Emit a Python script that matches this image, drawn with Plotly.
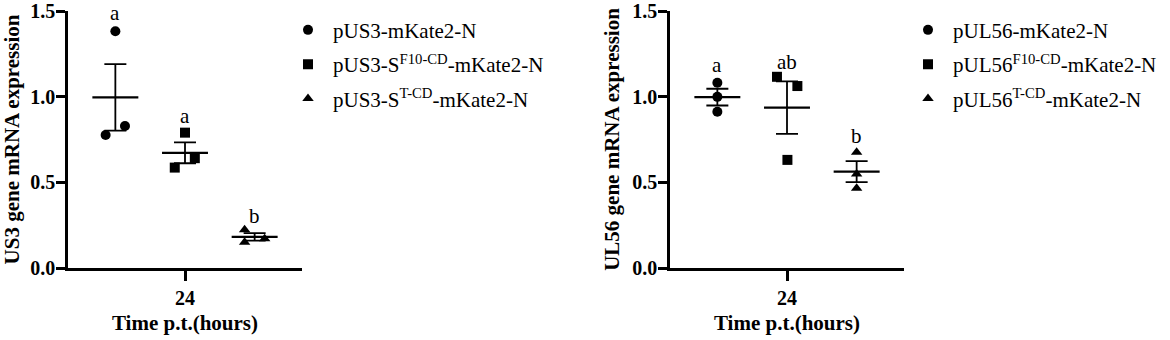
import numpy as np
import plotly.graph_objects as go

# ---------------- data ----------------
us3_names = ["pUS3-mKate2-N",
             "pUS3-S<sup>F10-CD</sup>-mKate2-N",
             "pUS3-S<sup>T-CD</sup>-mKate2-N"]
us3_wt = [1.382, 0.776, 0.829]
us3_f10 = [0.790, 0.586, 0.641]
us3_tcd = [0.223, 0.151, 0.171]
us3_letters = ["a", "a", "b"]
us3_letter_y = [1.487, 0.889, 0.305]

ul56_names = ["pUL56-mKate2-N",
              "pUL56<sup>F10-CD</sup>-mKate2-N",
              "pUL56<sup>T-CD</sup>-mKate2-N"]
ul56_wt = [1.081, 0.999, 0.912]
ul56_f10 = [1.116, 1.062, 0.631]
ul56_tcd = [0.675, 0.548, 0.465]
ul56_letters = ["a", "ab", "b"]
ul56_letter_y = [1.184, 1.203, 0.771]

time_ticks = ["24"]
y_ticks = [0.0, 0.5, 1.0, 1.5]
y_ticktext = ["0.0", "0.5", "1.0", "1.5"]

# ---------------- layout / style ----------------
W, H = 1170, 340
FONT = "Liberation Serif"
group_pos = [-1, 0, 1]
left_jitter = [[0, -0.14, 0.138], [0, -0.147, 0.141], [-0.144, -0.144, 0.144]]
right_jitter = [[0, 0, 0], [-0.144, 0.149, 0.006], [0, 0, 0]]
symbols = ["circle", "square", "triangle-up"]
sizes = [10, 10, 10]
mean_half = 0.33
cap_px = 11

fig = go.Figure()


def add_panel(values_list, names, jitter, xa, ya, legend_name):
    for gi, vals in enumerate(values_list):
        vals = np.array(vals, dtype=float)
        xs = [group_pos[gi] + j for j in jitter[gi]]
        fig.add_trace(go.Scatter(
            x=xs, y=vals, mode="markers", name=names[gi],
            marker=dict(symbol=symbols[gi], size=sizes[gi], color="black"),
            xaxis=xa, yaxis=ya, legend=legend_name,
            legendgroup=legend_name + str(gi), showlegend=True,
            cliponaxis=False, hoverinfo="skip"))
        m = vals.mean()
        sem = vals.std(ddof=1) / np.sqrt(len(vals))
        fig.add_trace(go.Scatter(
            x=[group_pos[gi] - mean_half, group_pos[gi] + mean_half], y=[m, m],
            mode="lines", line=dict(color="black", width=2.2),
            xaxis=xa, yaxis=ya, showlegend=False, hoverinfo="skip"))
        fig.add_trace(go.Scatter(
            x=[group_pos[gi]], y=[m], mode="markers",
            marker=dict(size=1, color="rgba(0,0,0,0)"),
            error_y=dict(type="data", array=[sem], symmetric=True,
                         color="black", thickness=1.8, width=cap_px),
            xaxis=xa, yaxis=ya, showlegend=False, hoverinfo="skip"))


add_panel([us3_wt, us3_f10, us3_tcd], us3_names, left_jitter, "x", "y", "legend")
add_panel([ul56_wt, ul56_f10, ul56_tcd], ul56_names, right_jitter, "x2", "y2", "legend2")

for xa, ya, letters, ly in [("x", "y", us3_letters, us3_letter_y),
                            ("x2", "y2", ul56_letters, ul56_letter_y)]:
    for gi, (t, yv) in enumerate(zip(letters, ly)):
        fig.add_annotation(x=group_pos[gi], y=yv, xref=xa, yref=ya, text=t,
                           showarrow=False, font=dict(family=FONT, size=21, color="#000000"),
                           xanchor="center", yanchor="middle")

axis_font = dict(family=FONT, size=20, color="black")
title_font = dict(family=FONT, size=21, color="black")

xcommon = dict(range=[-1.68, 1.68], tickvals=[0], ticktext=["<b>%s</b>" % t for t in time_ticks],
               showline=True, linecolor="black", linewidth=2.5,
               ticks="outside", ticklen=10, tickwidth=2.5, tickcolor="black",
               showgrid=False, zeroline=False, tickfont=axis_font, automargin=False,
               title=dict(text="<b>Time p.t.(hours)</b>", font=title_font, standoff=8))
ycommon = dict(range=[0, 1.5], tickvals=y_ticks, ticktext=["<b>%s</b>" % t for t in y_ticktext],
               showline=True, linecolor="black", linewidth=2.5,
               ticks="outside", ticklen=9, tickwidth=2.5, tickcolor="black",
               ticklabelstandoff=-3,
               showgrid=False, zeroline=False, tickfont=axis_font, automargin=False)

legend_common = dict(xref="paper", yref="paper", xanchor="left", yanchor="top",
                     font=dict(family=FONT, size=21, color="black"),
                     traceorder="grouped", tracegroupgap=4, itemwidth=40,
                     bgcolor="rgba(0,0,0,0)", borderwidth=0)

fig.update_layout(
    width=W, height=H,
    margin=dict(l=0, r=0, t=11, b=72, autoexpand=False),
    paper_bgcolor="white", plot_bgcolor="white",
    font=dict(family=FONT, color="black"),
    xaxis=dict(domain=[68 / W, 302 / W], anchor="y", **xcommon),
    xaxis2=dict(domain=[670 / W, 904 / W], anchor="y2", **xcommon),
    yaxis=dict(domain=[0, 1], anchor="x",
               title=dict(text="<b>US3 gene mRNA expression</b>", font=title_font, standoff=7),
               **ycommon),
    yaxis2=dict(domain=[0, 1], anchor="x2",
                title=dict(text="<b>UL56 gene mRNA expression</b>", font=title_font, standoff=7),
                **ycommon),
    legend=dict(x=283 / W, y=1.005, **legend_common),
    legend2=dict(x=903 / W, y=1.005, **legend_common),
    showlegend=True,
)

fig.write_html("out.html", config={"displayModeBar": False},
               post_script="document.body.style.margin='0';document.body.style.padding='0';")
